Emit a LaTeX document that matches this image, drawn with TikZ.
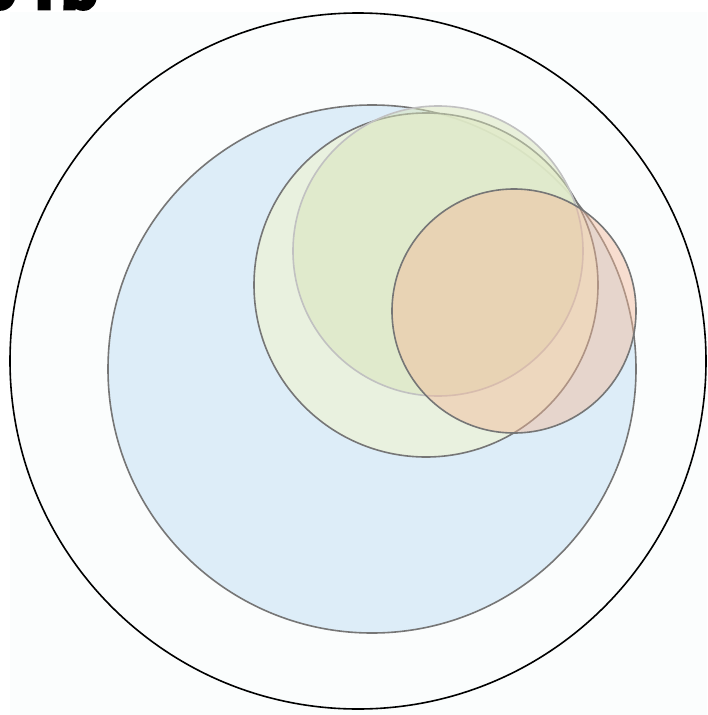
\documentclass[tikz,border=0pt]{standalone}
\usepackage{fontspec}
\setmainfont{Liberation Sans}
\newfontfamily\titlefont{Liberation Sans}[UprightFont={* Bold}, FakeBold=8]

\definecolor{paper}{RGB}{251,253,253}
\definecolor{setblue}{RGB}{221,237,248}
\definecolor{setlime}{RGB}{236,242,219}
\definecolor{setgreen}{RGB}{216,229,186}
\definecolor{setpeach}{RGB}{243,184,151}
\definecolor{rimgray}{RGB}{118,118,118}

\begin{document}
\begin{tikzpicture}[
    x=1pt, y=-1pt,
    %% ── Set styles ──────────────────────────────────────────────────────
    setcircle/.style={
        circle, inner sep=0pt, outer sep=0pt,
        draw=rimgray, line width=1.6pt,
    },
    universe/.style={
        circle, inner sep=0pt, outer sep=0pt,
        draw=black, line width=1.6pt,
    },
    caption/.style={font=\titlefont\fontsize{58}{64}\selectfont, inner sep=0pt},
]

\useasboundingbox (0,0) rectangle (707,715);
\fill[paper] (10,12) rectangle (707,715);

%%─────────────────────────────────────────────────────────────────────────
%% Title (cut off at the top)
%%─────────────────────────────────────────────────────────────────────────
\node[caption, anchor=base west] (title) at (-16,8) {9\hspace{10pt}Tb};

%%─────────────────────────────────────────────────────────────────────────
%% Universe
%%─────────────────────────────────────────────────────────────────────────
\node[universe, minimum size=696] (All) at (358,361) {};

%%─────────────────────────────────────────────────────────────────────────
%% Nested sets
%%─────────────────────────────────────────────────────────────────────────
\node[setcircle, fill=setblue, minimum size=528] (Blue) at (372,369) {};
\node[setcircle, fill=setlime, fill opacity=0.85, minimum size=344] (Lime) at (426,285) {};
\node[setcircle, fill=setgreen, fill opacity=0.5, draw=rimgray!45, minimum size=290] (Green) at (438,251) {};
\node[setcircle, fill=setpeach, fill opacity=0.45, minimum size=244] (Peach) at (514,311) {};

\end{tikzpicture}
\end{document}
